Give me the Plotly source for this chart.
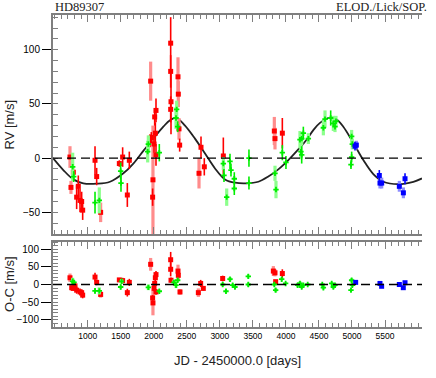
import plotly.graph_objects as go

# model curve (JD-2450000, RV m/s)
curve_jd = [475, 631, 783, 934, 1136, 1338, 1540, 1691, 1842, 1994, 2145, 2246, 2345,
            2473, 2624, 2776, 2927, 3078, 3230, 3406, 3583, 3734, 3885, 4037, 4188,
            4314, 4415, 4516, 4668, 4768, 4869, 5021, 5172, 5323, 5475, 5702, 5929, 6060]
curve_rv = [0, -11, -19.6, -23.3, -23.6, -21.8, -14, -5, 6.7, 18, 29, 35, 37,
            30, 18, 4.3, -9.5, -19.6, -22.7, -23.3, -21.8, -17, -10.4, -1.8, 8,
            17, 25.8, 32.5, 37.4, 35.6, 29, 14, -1.8, -14.7, -21.8, -24, -21.8, -18.7]

x_ticks = [1000, 1500, 2000, 2500, 3000, 3500, 4000, 4500, 5000, 5500]

# (jd, value, error, light) rows; light = wide pale error bar
elodie_rv = [
    (732, 1, 10, 1), (747, -27, 6, 1), (783, -13, 4, 0), (833, -36, 11, 0),
    (858, -26, 10, 0), (884, -39, 11, 0), (909, -40, 9, 0), (924, -48, 9, 0),
    (1111, -2, 13, 0), (1136, -17, 8, 0), (1196, -50, 9, 1),
    (1479, -5, 3, 0), (1529, 1, 9, 0), (1600, -34, 11, 0), (1630, -2, 8, 0),
    (1943, 16, 6, 0), (1953, 71, 18, 1), (1963, 19, 5, 0), (1983, -36, 8, 0),
    (1988, -20, 50, 1), (2004, 13, 8, 0), (2014, 38, 8, 0), (2024, 23, 10, 0),
    (2034, 44, 11, 0), (2034, 3, 10, 0),
    (2256, 106, 24, 0), (2256, 80, 15, 0), (2261, 52, 30, 0), (2256, 45, 12, 0),
    (2367, 75, 18, 1), (2372, 59, 12, 1), (2382, 27, 10, 1), (2392, 12, 6, 0),
    (2685, -14, 14, 1), (2715, 10, 10, 0), (2765, -8, 8, 0), (3053, 2, 17, 0),
    (3825, 25, 13, 1), (3835, 18, 10, 1), (3946, 23, 14, 0),
]
lick_rv = [
    (773, -8, 13, 1), (788, -17, 5, 0), (1111, -41, 10, 0), (1176, -39, 12, 1),
    (1499, -12, 8, 0), (1504, -23, 8, 0), (1908, 6, 10, 1), (1918, 13, 8, 1),
    (2084, 5, 8, 0), (2337, 37, 10, 1), (2347, 45, 8, 1), (2362, 29, 5, 0),
    (3053, -5, 6, 1), (3063, -16, 6, 0), (3104, -36, 8, 1), (3154, -3, 7, 0),
    (3169, -11, 6, 0), (3219, -19, 6, 0), (3219, -28, 6, 0), (3441, 0, 8, 0),
    (3441, -23, 6, 0), (3835, -14, 7, 1), (3850, -29, 8, 1), (3946, 5, 7, 0),
    (4001, -4, 6, 0), (4213, 17, 8, 1), (4228, 6, 7, 1), (4239, 18, 6, 1),
    (4239, 3, 8, 0), (4264, 23, 6, 0), (4340, 18, 5, 1), (4567, 28, 7, 1),
    (4592, 36, 8, 1), (4678, 37, 7, 0), (4718, 32, 7, 1), (4743, 29, 5, 1),
    (4758, 34, 5, 1), (4985, -6, 4, 0), (4995, 20, 6, 1), (4995, 1, 5, 0),
    (5005, 13, 5, 1),
]
sophie_rv = [
    (5046, 11, 4, 0), (5066, 12, 4, 1), (5414, -16, 5, 0), (5424, -23, 5, 1),
    (5450, -23, 5, 1), (5717, -26, 5, 1), (5778, -32, 5, 1), (5803, -19, 5, 0),
]

elodie_oc = [
    (732, 19, 12, 1), (758, -9, 8, 1), (783, -11, 6, 0), (808, -4, 8, 0),
    (833, -16, 10, 0), (884, -21, 10, 0), (909, -23, 9, 0), (924, -30, 9, 0),
    (1111, 21, 12, 0), (1136, 6, 8, 0), (1196, -28, 9, 1), (1479, 13, 4, 0),
    (1529, 11, 8, 0), (1600, -23, 11, 0), (1630, 6, 10, 0), (1953, 57, 18, 1),
    (1983, -38, 8, 0), (1988, -52, 35, 1), (2004, -11, 8, 0), (2014, 3, 8, 0),
    (2024, 19, 10, 0), (2034, 28, 10, 0), (2034, -21, 8, 0), (2256, 70, 22, 0),
    (2256, 43, 20, 0), (2261, 12, 8, 0), (2367, 38, 18, 1), (2372, 26, 12, 1),
    (2397, -21, 8, 1), (2675, -23, 12, 1), (2710, 3, 10, 0), (2750, -11, 6, 0),
    (3043, 17, 8, 0), (3810, 38, 14, 1), (3835, 33, 10, 1), (3845, 8, 4, 0),
    (3946, 31, 12, 0),
]
lick_oc = [
    (773, 9, 10, 1), (793, 6, 6, 0), (1111, -18, 8, 0), (1176, -18, 10, 1),
    (1499, -7, 7, 0), (1514, 9, 6, 1), (1918, -8, 8, 1), (2084, -19, 6, 0),
    (2306, 6, 8, 1), (2337, -2, 8, 1), (2362, 12, 6, 0), (3043, 0, 6, 0),
    (3093, -19, 6, 0), (3154, 15, 6, 1), (3194, -2, 6, 0), (3229, -7, 6, 0),
    (3431, 23, 6, 0), (3431, 0, 6, 0), (3825, 0, 5, 0), (3845, -16, 6, 1),
    (3936, 15, 6, 0), (3996, 3, 4, 0), (4178, -2, 6, 1), (4213, 3, 6, 1),
    (4239, -7, 6, 0), (4264, -2, 5, 1), (4330, 0, 4, 0), (4551, 0, 4, 0),
    (4567, -9, 5, 1), (4693, 3, 5, 0), (4718, -7, 5, 1), (4743, -2, 5, 1),
    (4985, -16, 5, 0), (4995, 12, 6, 1), (5005, -2, 5, 1),
]
sophie_oc = [
    (5056, 6, 4, 0), (5424, 3, 4, 1), (5449, -5, 4, 1), (5717, 0, 4, 1),
    (5777, -9, 4, 1), (5803, 5, 4, 0),
]

colors = {"elodie": ("#ff0000", "#ff8c8c"), "lick": ("#00ee00", "#8cff8c"),
          "sophie": ("#0000ff", "#8c8cff")}
symbols = {"elodie": "square", "lick": "cross", "sophie": "square"}

fig = go.Figure()

# model
fig.add_trace(go.Scatter(x=curve_jd, y=curve_rv, mode="lines", line_shape="spline",
                         line=dict(color="#222222", width=1.8), xaxis="x", yaxis="y"))


def add_set(rows, key, xa, ya):
    dark, pale = colors[key]
    for light in (1, 0):
        sel = [r for r in rows if r[3] == light]
        if not sel:
            continue
        fig.add_trace(go.Scatter(
            x=[r[0] for r in sel], y=[r[1] for r in sel], mode="markers",
            marker=dict(symbol=symbols[key], size=5 if key != "lick" else 4.5,
                        color=dark, line=dict(width=0)),
            error_y=dict(type="data", array=[r[2] for r in sel], width=0,
                         color=pale if light else dark,
                         thickness=3.2 if light else 1.6),
            xaxis=xa, yaxis=ya))


for rows, key in ((elodie_rv, "elodie"), (lick_rv, "lick"), (sophie_rv, "sophie")):
    add_set(rows, key, "x", "y")
for rows, key in ((elodie_oc, "elodie"), (lick_oc, "lick"), (sophie_oc, "sophie")):
    add_set(rows, key, "x2", "y2")

frame = "#7f7f7f"
xcommon = dict(range=[475, 6060], tickmode="array", tickvals=x_ticks, ticks="inside",
               ticklen=7, tickcolor=frame, tickwidth=1, showline=True, linecolor=frame,
               linewidth=2, mirror="ticks", showgrid=False, zeroline=False,
               minor=dict(tick0=0, dtick=100, ticks="inside", ticklen=4, tickcolor=frame))
yleft = dict(ticks="outside", ticklen=9, tickcolor="black", tickwidth=1, showline=True,
             linecolor=frame, linewidth=2, showgrid=False, zeroline=False,
             tickfont=dict(family="Liberation Sans, Arial, sans-serif", size=10, color="black"),
             minor=dict(dtick=10, ticks="inside", ticklen=5, tickcolor=frame))
yright = dict(side="right", ticks="inside", ticklen=7, tickcolor=frame, showline=True,
              linecolor=frame, linewidth=2, showgrid=False, zeroline=False,
              showticklabels=False,
              minor=dict(dtick=10, ticks="inside", ticklen=4, tickcolor=frame))

top_dom = [0.298, 1.0]
bot_dom = [0.0, 0.2724]

fig.update_layout(
    width=436, height=378, showlegend=False, hovermode=False,
    paper_bgcolor="white", plot_bgcolor="white",
    margin=dict(l=53, r=14, t=15, b=51),
    xaxis=dict(xcommon, domain=[0, 1], anchor="y", showticklabels=False),
    xaxis2=dict(xcommon, domain=[0, 1], anchor="y2", showticklabels=True,
                tickfont=dict(family="Liberation Sans, Arial, sans-serif", size=8.5,
                              color="black")),
    yaxis=dict(yleft, domain=top_dom, anchor="x", range=[-70, 132], tick0=0, dtick=50),
    yaxis3=dict(yright, overlaying="y", anchor="x", range=[-70, 132], tick0=0, dtick=50),
    yaxis2=dict(yleft, domain=bot_dom, anchor="x2", range=[-120, 120], tick0=0, dtick=50,
                ticklen=10),
    yaxis4=dict(yright, overlaying="y2", anchor="x2", range=[-120, 120], tick0=0, dtick=50),
)

# dashed zero lines
for xr, yr in (("x domain", "y"), ("x2 domain", "y2")):
    fig.add_shape(type="line", xref=xr, yref=yr, x0=0, x1=1, y0=0, y1=0,
                  line=dict(color="black", width=1.3, dash="9px,5px"), layer="above")

serif = dict(family="Liberation Serif, Times New Roman, serif", size=12.5, color="#222222")
sans = dict(family="Liberation Sans, Arial, sans-serif", size=13, color="#222222")
fig.add_annotation(text="HD89307", xref="paper", yref="paper", x=0, y=1.0256,
                   xanchor="left", yanchor="middle", showarrow=False, font=serif)
fig.add_annotation(text="ELOD./Lick/SOP.", xref="paper", yref="paper", x=1.019, y=1.0256,
                   xanchor="right", yanchor="middle", showarrow=False, font=serif)
fig.add_annotation(text="RV [m/s]", xref="paper", yref="paper", x=-0.1165, y=0.649,
                   xanchor="center", yanchor="middle", textangle=-90, showarrow=False,
                   font=sans)
fig.add_annotation(text="O-C [m/s]", xref="paper", yref="paper", x=-0.1165, y=0.138,
                   xanchor="center", yanchor="middle", textangle=-90, showarrow=False,
                   font=sans)
fig.add_annotation(text="JD - 2450000.0 [days]", xref="paper", yref="paper", x=0.501,
                   y=-0.106, xanchor="center", yanchor="middle", showarrow=False, font=sans)

# the page body has a default 8px margin; remove it so the figure sits at 0,0
fig.write_html("out.html", config={"displayModeBar": False},
               post_script="document.body.style.margin='0';")
